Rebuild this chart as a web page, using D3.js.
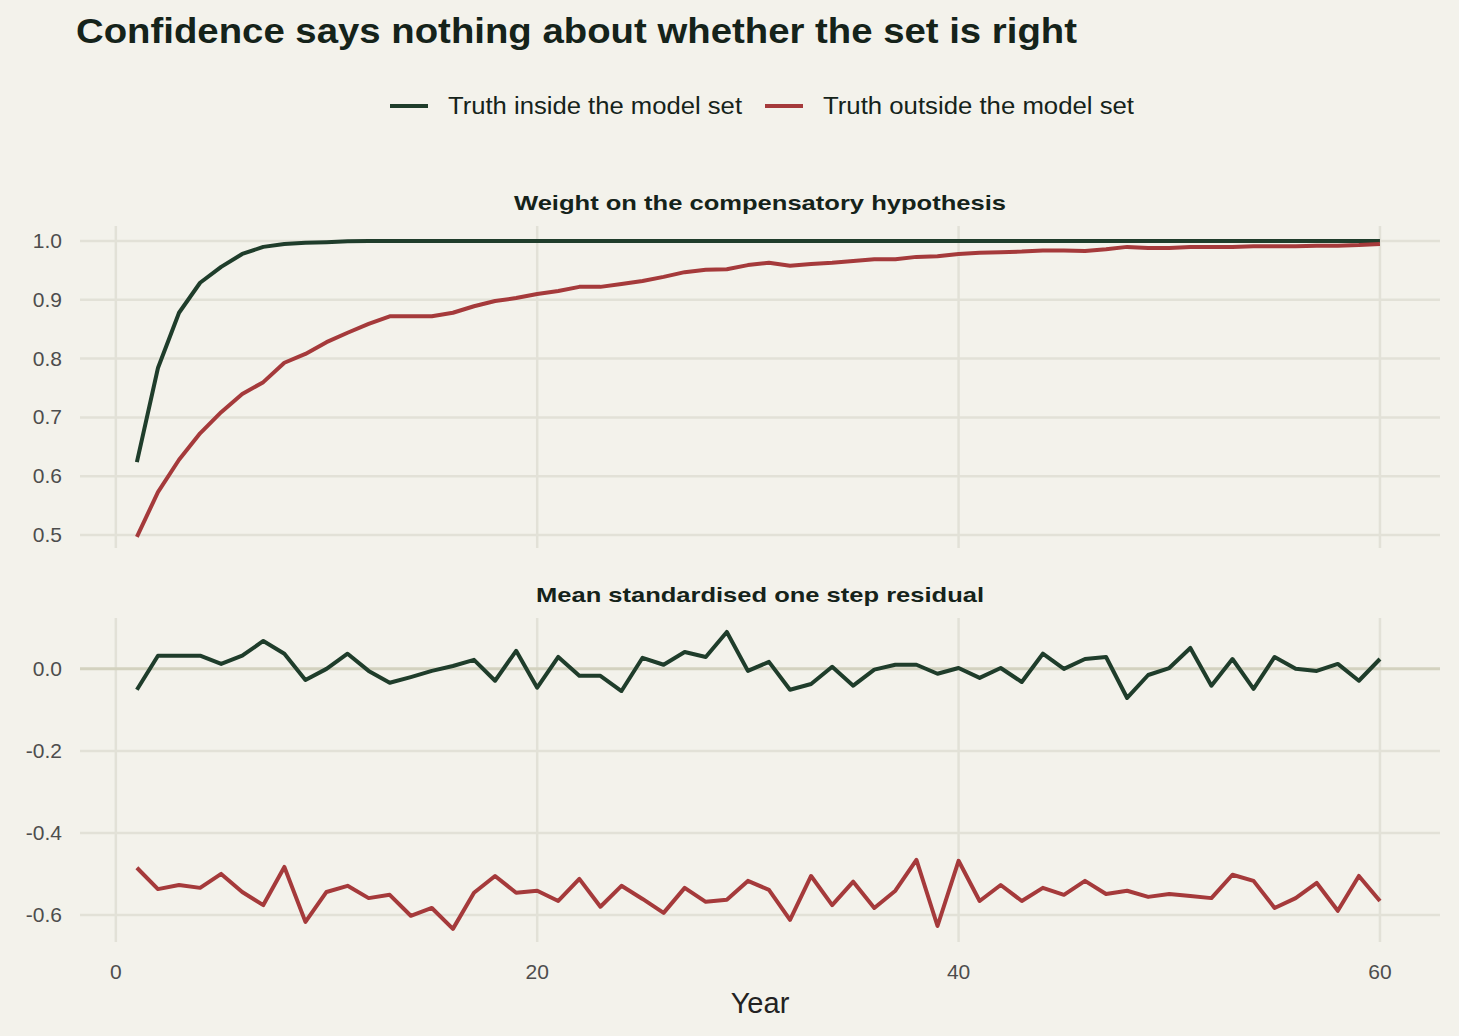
<!DOCTYPE html><html><head><meta charset="utf-8"><script src="https://cdn.jsdelivr.net/npm/d3@7"></script>
<style>body{margin:0;background:#f3f2eb}svg{display:block;font-family:"Liberation Sans",Arial,sans-serif}</style></head><body><svg id="c" width="1459" height="1036"></svg><script>
const years = d3.range(1,61);
const wInside = [0.624,0.784,0.878,0.929,0.956,0.978,0.99,0.995,0.997,0.998,0.9995,0.9998,0.9999,1,1,1,1,1,1,1,1,1,1,1,1,1,1,1,1,1,1,1,1,1,1,1,1,1,1,1,1,1,1,1,1,1,1,1,1,1,1,1,1,1,1,1,1,1,1,1];
const wOutside = [0.497,0.573,0.628,0.673,0.709,0.74,0.76,0.793,0.808,0.828,0.844,0.859,0.872,0.872,0.872,0.878,0.889,0.898,0.903,0.91,0.915,0.922,0.922,0.927,0.932,0.939,0.947,0.951,0.952,0.959,0.963,0.958,0.961,0.963,0.966,0.969,0.969,0.973,0.974,0.978,0.98,0.981,0.982,0.984,0.984,0.983,0.986,0.99,0.988,0.988,0.99,0.99,0.99,0.991,0.991,0.991,0.992,0.992,0.993,0.995];
const rInside = [-0.051,0.032,0.032,0.032,0.012,0.032,0.068,0.037,-0.027,0,0.037,-0.005,-0.034,-0.02,-0.005,0.007,0.022,-0.029,0.044,-0.046,0.029,-0.017,-0.017,-0.054,0.027,0.01,0.041,0.029,0.09,-0.005,0.017,-0.051,-0.037,0.005,-0.041,-0.002,0.01,0.01,-0.012,0.002,-0.022,0.002,-0.032,0.037,0,0.024,0.029,-0.071,-0.015,0.002,0.051,-0.041,0.024,-0.049,0.029,0,-0.005,0.012,-0.029,0.024];
const rOutside = [-0.485,-0.537,-0.527,-0.534,-0.5,-0.544,-0.576,-0.483,-0.617,-0.544,-0.529,-0.559,-0.551,-0.602,-0.583,-0.634,-0.546,-0.505,-0.546,-0.541,-0.566,-0.512,-0.58,-0.529,-0.561,-0.595,-0.534,-0.568,-0.563,-0.517,-0.539,-0.612,-0.505,-0.576,-0.519,-0.583,-0.541,-0.466,-0.627,-0.468,-0.566,-0.527,-0.566,-0.534,-0.551,-0.517,-0.549,-0.541,-0.556,-0.549,-0.554,-0.559,-0.502,-0.517,-0.583,-0.559,-0.522,-0.59,-0.505,-0.566];
const xTicks = [0,20,40,60];
const topTicks = [0.5,0.6,0.7,0.8,0.9,1.0];
const botTicks = [-0.6,-0.4,-0.2,0.0];
const seriesNames = ["Truth inside the model set","Truth outside the model set"];
const colors = ["#1f3d2b","#a53a3b"];

const svg = d3.select("#c");
svg.append("rect").attr("width",1459).attr("height",1036).attr("fill","#f3f2eb");
const x = d3.scaleLinear().domain([-1.7,62.85]).range([80,1440]);
const grid="#e2e1d7", tickCol="#4d4d4d";

svg.append("text").attr("x",76).attr("y",43).attr("font-size",35).attr("font-weight","bold").attr("fill","#15231a")
  .attr("textLength",1001).attr("lengthAdjust","spacingAndGlyphs").text("Confidence says nothing about whether the set is right");

const lg = svg.append("g");
[[390,seriesNames[0],294],[765,seriesNames[1],311]].forEach(([lx,t,w],i)=>{
  lg.append("line").attr("x1",lx).attr("x2",lx+38).attr("y1",106).attr("y2",106).attr("stroke",colors[i]).attr("stroke-width",4);
  lg.append("text").attr("x",lx+58).attr("y",114).attr("font-size",23).attr("fill","#15231a").attr("textLength",w).attr("lengthAdjust","spacingAndGlyphs").text(t);
});

function panel(y, ticks, fmt, title, titleY, titleW, data, zeroLine){
  const g = svg.append("g");
  const [y0,y1] = y.range();
  xTicks.forEach(t=>g.append("line").attr("x1",x(t)).attr("x2",x(t)).attr("y1",y0).attr("y2",y1).attr("stroke",grid).attr("stroke-width",2.5));
  ticks.forEach(t=>{
    g.append("line").attr("x1",80).attr("x2",1440).attr("y1",y(t)).attr("y2",y(t)).attr("stroke",(zeroLine&&t===0)?"#d3d2bf":grid).attr("stroke-width",(zeroLine&&t===0)?3:2.5);
    g.append("text").attr("x",62).attr("y",y(t)+7).attr("text-anchor","end").attr("font-size",21).attr("fill",tickCol).text(fmt(t));
  });
  g.append("text").attr("x",760).attr("y",titleY).attr("text-anchor","middle").attr("font-size",21).attr("font-weight","bold").attr("fill","#15231a")
    .attr("textLength",titleW).attr("lengthAdjust","spacingAndGlyphs").text(title);
  const line = d3.line().x((d,i)=>x(years[i])).y(d=>y(d));
  data.forEach((d,i)=>g.append("path").attr("d",line(d)).attr("fill","none").attr("stroke",colors[i]).attr("stroke-width",4).attr("stroke-linejoin","round"));
}
const yTop = d3.scaleLinear().domain([0.478,1.0255]).range([548,226]);
const yBot = d3.scaleLinear().domain([-0.666,0.124]).range([942,618]);
panel(yTop, topTicks, d3.format(".1f"), "Weight on the compensatory hypothesis", 210, 492, [wInside,wOutside], false);
panel(yBot, botTicks, d=>d===0?"0.0":d3.format(".1f")(d).replace("−","-"), "Mean standardised one step residual", 602, 448, [rInside,rOutside], true);

xTicks.forEach(t=>svg.append("text").attr("x",x(t)).attr("y",979).attr("text-anchor","middle").attr("font-size",21).attr("fill",tickCol).text(t));
svg.append("text").attr("x",760).attr("y",1013).attr("text-anchor","middle").attr("font-size",29).attr("fill","#222").text("Year");
</script></body></html>
